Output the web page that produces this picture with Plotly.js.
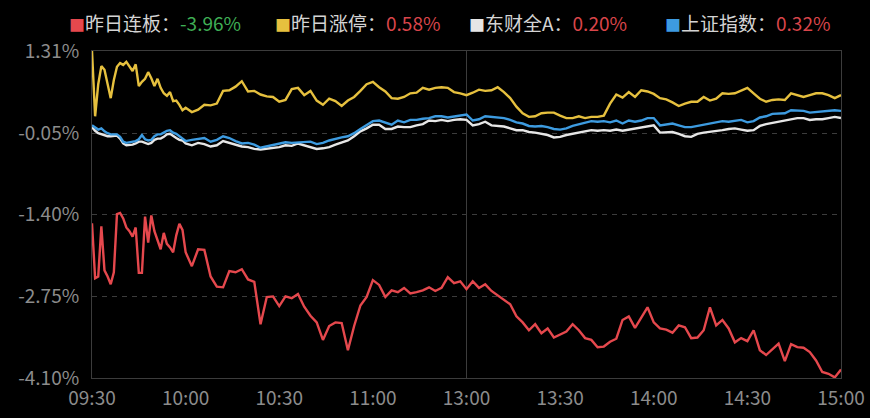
<!DOCTYPE html>
<html>
<head>
<meta charset="utf-8">
<script src="https://cdn.plot.ly/plotly-3.0.1.min.js"></script>
<style>
  html, body { margin: 0; padding: 0; background: #000; }
  #chart { width: 870px; height: 418px; }
</style>
</head>
<body>
<div id="chart"></div>
<script>
// Time axis (minutes of trading since 09:30; lunch break removed)
const tickMinutes = [0, 30, 60, 90, 120, 150, 180, 210, 240];
const tickLabels = ['09:30', '10:00', '10:30', '11:00', '13:00', '13:30', '14:00', '14:30', '15:00'];
const yTickValues = [1.31, -0.05, -1.40, -2.75, -4.10];
const yTickLabels = ['1.31%', '-0.05%', '-1.40%', '-2.75%', '-4.10%'];

const seriesNames = ['昨日连板', '昨日涨停', '东财全A', '上证指数'];
const lastValues = ['-3.96%', '0.58%', '0.20%', '0.32%'];

// sample minutes: every minute for the first half hour, then every 2 minutes
const minutes = [];
for (let m = 0; m <= 30; m++) minutes.push(m);
for (let m = 32; m <= 240; m += 2) minutes.push(m);

const lianban = [
  -1.54, -2.45, -2.42, -1.59, -2.32, -2.42, -2.55, -2.35, -1.39, -1.37,
  -1.46, -1.61, -1.67, -1.76, -1.61, -2.36, -2.36, -1.43, -1.86, -1.41,
  -1.67, -1.81, -1.97, -1.70, -1.88, -1.94, -2.02, -1.74, -1.55, -1.65,
  -2.02,
  -2.25, -1.97, -1.98, -2.42, -2.59, -2.60, -2.33, -2.35, -2.30, -2.47,
  -2.51, -3.21, -2.76, -2.75, -2.91, -2.75, -2.78, -2.71, -2.92, -3.07,
  -3.18, -3.47, -3.24, -3.18, -3.19, -3.64, -3.24, -2.90, -2.76, -2.48,
  -2.56, -2.76, -2.65, -2.68, -2.61, -2.70, -2.68, -2.65, -2.60, -2.66,
  -2.61, -2.43, -2.53, -2.50, -2.63, -2.50, -2.61, -2.55, -2.66, -2.73,
  -2.80, -2.88, -3.08, -3.18, -3.31, -3.21, -3.36, -3.28, -3.43, -3.38,
  -3.33, -3.21, -3.31, -3.44, -3.47, -3.59, -3.58, -3.50, -3.45, -3.14,
  -3.08, -3.27, -3.11, -2.93, -3.18, -3.28, -3.30, -3.35, -3.23, -3.26,
  -3.44, -3.43, -3.31, -2.93, -3.23, -3.14, -3.28, -3.51, -3.44, -3.49,
  -3.31, -3.64, -3.72, -3.62, -3.53, -3.82, -3.54, -3.59, -3.60, -3.67,
  -3.81, -4.00, -4.03, -4.09, -3.96
];

const zhangting = [
  1.31, 0.23, 0.76, 1.06, 1.00, 0.75, 0.53, 0.83, 1.05, 1.11,
  1.08, 1.13, 1.06, 0.98, 1.09, 0.73, 0.80, 0.85, 0.96, 0.86,
  0.73, 0.85, 0.70, 0.61, 0.57, 0.63, 0.48, 0.49, 0.42, 0.33,
  0.37,
  0.30, 0.34, 0.42, 0.41, 0.44, 0.65, 0.66, 0.72, 0.81, 0.64,
  0.65, 0.59, 0.56, 0.55, 0.47, 0.50, 0.68, 0.70, 0.58, 0.65,
  0.49, 0.42, 0.52, 0.48, 0.40, 0.49, 0.55, 0.65, 0.76, 0.80,
  0.71, 0.64, 0.53, 0.52, 0.55, 0.61, 0.62, 0.70, 0.67, 0.70,
  0.71, 0.70, 0.63, 0.61, 0.58, 0.62, 0.67, 0.65, 0.66, 0.71,
  0.63, 0.53, 0.39, 0.28, 0.22, 0.23, 0.28, 0.29, 0.29, 0.24,
  0.20, 0.20, 0.23, 0.20, 0.22, 0.22, 0.24, 0.44, 0.59, 0.54,
  0.63, 0.55, 0.66, 0.64, 0.60, 0.53, 0.51, 0.46, 0.40, 0.44,
  0.47, 0.47, 0.55, 0.49, 0.52, 0.61, 0.60, 0.61, 0.66, 0.70,
  0.61, 0.52, 0.47, 0.50, 0.51, 0.50, 0.61, 0.58, 0.55, 0.58,
  0.61, 0.61, 0.58, 0.53, 0.58
];

const quanA = [
  0.05, -0.01, -0.05, -0.07, -0.09, -0.10, -0.10, -0.10, -0.09, -0.14,
  -0.22, -0.25, -0.25, -0.24, -0.22, -0.19, -0.19, -0.21, -0.23, -0.21,
  -0.16, -0.14, -0.14, -0.11, -0.07, -0.06, -0.10, -0.13, -0.16, -0.17,
  -0.22,
  -0.25, -0.21, -0.23, -0.27, -0.25, -0.18, -0.21, -0.24, -0.27, -0.28,
  -0.31, -0.32, -0.31, -0.30, -0.28, -0.25, -0.26, -0.22, -0.25, -0.29,
  -0.31, -0.30, -0.28, -0.24, -0.21, -0.17, -0.10, -0.02, 0.03, 0.09,
  0.09, 0.02, 0.02, 0.06, 0.05, 0.05, 0.08, 0.10, 0.16, 0.15,
  0.17, 0.15, 0.17, 0.18, 0.17, 0.08, 0.10, 0.14, 0.08, 0.07,
  0.06, 0.03, 0.00, 0.00, -0.03, -0.04, -0.06, -0.08, -0.12, -0.11,
  -0.08, -0.06, -0.05, -0.03, 0.00, -0.01, 0.00, -0.01, 0.01, -0.01,
  0.01, 0.03, 0.04, 0.06, 0.08, -0.04, -0.03, -0.03, -0.06, -0.10,
  -0.11, -0.06, -0.04, -0.03, -0.01, 0.00, 0.02, 0.03, 0.01, -0.01,
  0.00, 0.07, 0.10, 0.12, 0.15, 0.16, 0.18, 0.20, 0.20, 0.17,
  0.18, 0.18, 0.20, 0.22, 0.20
];

const shangzheng = [
  0.08, 0.04, 0.01, 0.03, -0.02, -0.05, -0.07, -0.07, -0.07, -0.11,
  -0.19, -0.21, -0.20, -0.20, -0.18, -0.15, -0.08, -0.15, -0.17, -0.16,
  -0.10, -0.07, -0.07, -0.04, -0.01, 0.00, -0.04, -0.06, -0.10, -0.14,
  -0.18,
  -0.16, -0.14, -0.13, -0.19, -0.16, -0.10, -0.13, -0.18, -0.22, -0.21,
  -0.24, -0.29, -0.27, -0.25, -0.22, -0.20, -0.21, -0.20, -0.20, -0.19,
  -0.23, -0.21, -0.17, -0.14, -0.12, -0.10, -0.05, 0.02, 0.08, 0.15,
  0.16, 0.12, 0.09, 0.16, 0.13, 0.17, 0.17, 0.19, 0.20, 0.23,
  0.23, 0.21, 0.23, 0.25, 0.26, 0.16, 0.18, 0.23, 0.22, 0.22,
  0.20, 0.17, 0.13, 0.11, 0.07, 0.06, 0.07, 0.05, 0.02, 0.01,
  0.03, 0.07, 0.10, 0.12, 0.15, 0.14, 0.15, 0.13, 0.16, 0.11,
  0.16, 0.14, 0.16, 0.20, 0.20, 0.08, 0.10, 0.11, 0.08, 0.05,
  0.05, 0.07, 0.08, 0.10, 0.12, 0.15, 0.14, 0.16, 0.17, 0.13,
  0.15, 0.21, 0.23, 0.27, 0.27, 0.28, 0.33, 0.32, 0.32, 0.29,
  0.30, 0.32, 0.33, 0.33, 0.32
];

const lineColors = ['#e5484d', '#e6c03e', '#e6e6e6', '#3d9be0'];
const valueColors = ['#3fae55', '#d9454a', '#d9454a', '#d9454a'];
const allSeries = [lianban, zhangting, quanA, shangzheng];

const traces = allSeries.map((ys, i) => ({
  type: 'scatter',
  mode: 'lines',
  x: minutes,
  y: ys,
  name: seriesNames[i],
  line: { color: lineColors[i], width: 2.4 },
  hoverinfo: 'skip'
}));

const legendX = [-0.033, 0.242, 0.5, 0.763];
const annotations = seriesNames.map((n, i) => ({
  xref: 'paper', yref: 'paper',
  x: legendX[i], y: 1.088,
  xanchor: 'left', yanchor: 'middle',
  showarrow: false,
  text: '<span style="color:' + lineColors[i] + ';font-size:16px">■</span>' + n + '：<span style="color:' + valueColors[i] + '">' + lastValues[i] + '</span>',
  font: { family: '"Noto Sans CJK SC", "Noto Sans", sans-serif', size: 19, color: '#d4d4d4' }
}));

const layout = {
  width: 870, height: 418,
  paper_bgcolor: '#000000',
  plot_bgcolor: '#000000',
  margin: { l: 92, r: 29, t: 51, b: 40, pad: 0 },
  showlegend: false,
  font: { family: '"Noto Sans CJK SC", "Noto Sans", sans-serif', color: '#8c8c8c', size: 19 },
  xaxis: {
    range: [tickMinutes[0], tickMinutes[tickMinutes.length - 1]],
    tickmode: 'array',
    tickvals: tickMinutes,
    ticktext: tickLabels,
    showgrid: false,
    zeroline: false,
    showline: true,
    mirror: true,
    linecolor: '#3c3c3c',
    linewidth: 1,
    ticks: '',
    ticklabelstandoff: 3,
    tickfont: { size: 19, color: '#8c8c8c' }
  },
  yaxis: {
    range: [yTickValues[yTickValues.length - 1], yTickValues[0]],
    tickmode: 'array',
    tickvals: yTickValues,
    ticktext: yTickLabels,
    showgrid: true,
    gridcolor: '#3c3c3c',
    griddash: '5px,5px',
    gridwidth: 1,
    zeroline: false,
    showline: true,
    mirror: true,
    linecolor: '#3c3c3c',
    linewidth: 1,
    ticks: '',
    ticklabelstandoff: 8,
    tickfont: { size: 19, color: '#8c8c8c' }
  },
  shapes: [{
    type: 'line', xref: 'x', yref: 'paper',
    x0: tickMinutes[4], x1: tickMinutes[4], y0: 0, y1: 1,
    line: { color: '#3c3c3c', width: 1 },
    layer: 'below'
  }],
  annotations: annotations
};

Plotly.newPlot('chart', traces, layout, { displayModeBar: false, staticPlot: true });
</script>
</body>
</html>
